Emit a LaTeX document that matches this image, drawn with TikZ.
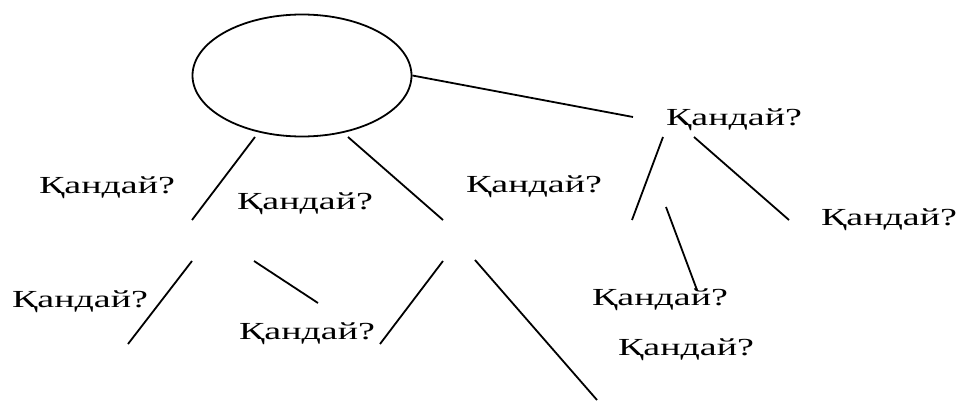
\documentclass[tikz,border=0pt]{standalone}
\usepackage{fontspec}
\newfontfamily\kz[FakeStretch=1.55]{Liberation Serif}
\usetikzlibrary{shapes.geometric}
\tikzset{
  lbl/.style={inner sep=0pt, font=\kz\fontsize{24.5}{26}\selectfont},
  ln/.style={line width=1.8pt},
}
\begin{document}
\begin{tikzpicture}[x=1pt,y=-1pt]
\useasboundingbox (0,0) rectangle (961,401);
\node[draw, ellipse, ln, minimum width=219pt, minimum height=122pt, inner sep=0pt] (root) at (302,75.5) {};
% labels
\node[lbl] (q1) at (734,120) {Қандай?};
\node[lbl] (q2) at (107,188) {Қандай?};
\node[lbl] (q3) at (305,204) {Қандай?};
\node[lbl] (q4) at (534,187) {Қандай?};
\node[lbl] (q5) at (889,220) {Қандай?};
\node[lbl] (q6) at (80,302) {Қандай?};
\node[lbl] (q7) at (307,334) {Қандай?};
\node[lbl] (q8) at (660,300) {Қандай?};
\node[lbl] (q9) at (686,350) {Қандай?};
% line ends
\coordinate (r1) at (633,117);
\coordinate (a0) at (255,137); \coordinate (a1) at (192,220);
\coordinate (b0) at (348,137); \coordinate (b1) at (443,220);
\coordinate (c0) at (192,261); \coordinate (c1) at (128,344);
\coordinate (d0) at (254,261); \coordinate (d1) at (318,303);
\coordinate (e0) at (443,261); \coordinate (e1) at (380,344);
\coordinate (f0) at (475,260); \coordinate (f1) at (597,400);
\coordinate (g0) at (663,137); \coordinate (g1) at (632,220);
\coordinate (h0) at (694,137); \coordinate (h1) at (789,220);
\coordinate (i0) at (666,207); \coordinate (i1) at (697,290);
\draw[ln] (root.east) -- (r1);
\draw[ln] (a0) -- (a1);
\draw[ln] (b0) -- (b1);
\draw[ln] (c0) -- (c1);
\draw[ln] (d0) -- (d1);
\draw[ln] (e0) -- (e1);
\draw[ln] (f0) -- (f1);
\draw[ln] (g0) -- (g1);
\draw[ln] (h0) -- (h1);
\draw[ln] (i0) -- (i1);
\end{tikzpicture}
\end{document}
